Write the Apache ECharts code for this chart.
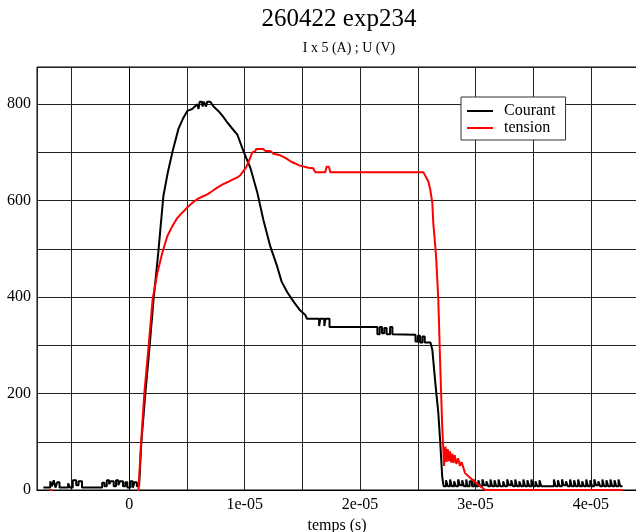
<!DOCTYPE html>
<html>
<head>
<meta charset="utf-8">
<script src="https://cdn.jsdelivr.net/npm/echarts@6/dist/echarts.min.js"></script>
<style>
html,body{margin:0;padding:0;background:#fff;}
#chart{width:636px;height:532px;}
</style>
</head>
<body>
<div id="chart"></div>
<script>
// ---- texts ----
const titre = '260422 exp234';
const sousTitre = 'I x 5 (A) ; U (V)';
const nomAxeX = 'temps (s)';
const nomsSeries = ['Courant', 'tension'];
const yTickLabels = [0, 200, 400, 600, 800];

// ---- data: [time in microseconds, value] ----
const courant = [
  [-7.45,5],[-6.85,5],[-6.85,18],[-6.7,18],[-6.7,8],[-6.55,8],[-6.55,20],[-6.4,20],[-6.4,5],[-6.25,5],[-6.25,16],[-6.05,16],[-6.05,5],
  [-5.3,5],[-5.3,14],[-5.15,14],[-5.15,5],[-4.9,5],[-4.9,20],[-4.6,20],[-4.6,10],[-4.4,10],[-4.4,18],[-4.1,18],[-4.1,5],
  [-2.35,5],[-2.35,15],[-2.15,15],[-2.15,8],[-1.95,8],[-1.95,20],[-1.75,20],[-1.75,12],[-1.6,12],[-1.6,18],[-1.35,18],[-1.35,8],
  [-1.15,8],[-1.15,20],[-0.95,20],[-0.95,10],[-0.8,10],[-0.8,18],[-0.55,18],[-0.55,8],[-0.35,8],[-0.35,16],[-0.17,16],[-0.17,5],
  [0.1,5],[0.1,18],[0.3,18],[0.3,5],[0.45,5],[0.45,16],[0.65,16],[0.65,8],[0.85,8],
  [1.04,98],[1.39,200],[1.76,298],[2.1,395],[2.51,492],[2.95,609],[3.35,660],[3.73,700],[4.25,748],[4.65,770],[5.03,786],[5.45,790],
  [5.89,800],[6.0,790],[6.1,805],[6.3,805],[6.35,795],[6.45,805],[6.6,805],[6.65,795],[6.75,805],[7.02,805],[7.3,795],[7.71,786],
  [8.1,775],[8.49,762],[8.9,750],[9.36,737],[9.88,703],[10.49,668],[11.09,617],[11.61,561],[12.22,505],[12.82,463],[13.2,432],
  [13.69,410],[14.25,390],[14.82,372],[15.25,363],[15.4,355],
  [16.45,355],[16.45,340],[16.55,340],[16.55,355],[16.9,355],[16.9,340],[17.0,340],[17.0,355],[17.35,355],[17.35,338],
  [21.5,338],[21.5,323],[21.7,323],[21.7,338],[21.9,338],[21.9,325],[22.1,325],[22.1,336],[22.3,336],[22.3,323],[22.6,323],[22.6,338],[22.8,338],[22.8,323],
  [24.8,322],[24.8,308],[25.0,308],[25.0,320],[25.2,320],[25.2,306],[25.4,306],[25.4,318],[25.6,318],[25.6,306],[26.1,306],
  [26.26,291],[26.52,222],[26.78,160],[26.95,98],[27.12,27],[27.24,8],
  [27.45,8],[27.45,20],[27.6,20],[27.6,8],[27.8,8],[27.8,22],[27.95,22],[27.95,8],[28.15,8],[28.15,18],[28.3,18],[28.3,8],
  [28.5,8],[28.5,22],[28.65,22],[28.65,10],[28.85,10],[28.85,20],[29.0,20],[29.0,8],[29.2,8],[29.2,22],[29.3,22],[29.3,8],
  [29.5,8],[29.5,18],[29.7,18],[29.7,8],[29.9,8],[29.9,22],[30.05,22],[30.05,8],[30.25,8],[30.25,20],[30.4,20],[30.4,8],
  [30.6,8],[30.6,22],[30.75,22],[30.75,10],[30.95,10],[30.95,18],[31.1,18],[31.1,8],[31.3,8],[31.3,22],[31.45,22],[31.45,8],
  [31.65,8],[31.65,20],[31.8,20],[31.8,8],[32.0,8],[32.0,22],[32.15,22],[32.15,8],[32.4,8],[32.4,18],[32.55,18],[32.55,8],
  [32.75,8],[32.75,22],[32.9,22],[32.9,10],[33.1,10],[33.1,20],[33.25,20],[33.25,8],[33.45,8],[33.45,22],[33.6,22],[33.6,8],
  [33.8,8],[33.8,18],[33.95,18],[33.95,8],[34.15,8],[34.15,22],[34.3,22],[34.3,8],[34.5,8],[34.5,20],[34.65,20],[34.65,8],
  [34.85,8],[34.85,22],[35.0,22],[35.0,8],[35.2,8],[35.2,18],[35.35,18],[35.35,8],[35.55,8],[35.55,20],[35.7,20],[35.7,8],
  [36.8,8],[36.8,22],[36.95,22],[36.95,8],[37.15,8],[37.15,20],[37.3,20],[37.3,8],[37.5,8],[37.5,22],[37.65,22],[37.65,10],
  [37.85,10],[37.85,18],[38.0,18],[38.0,8],[38.2,8],[38.2,22],[38.35,22],[38.35,8],[38.55,8],[38.55,20],[38.7,20],[38.7,8],
  [38.9,8],[38.9,22],[39.05,22],[39.05,8],[39.25,8],[39.25,18],[39.4,18],[39.4,8],[39.6,8],[39.6,22],[39.75,22],[39.75,8],
  [39.95,8],[39.95,20],[40.1,20],[40.1,8],[40.3,8],[40.3,22],[40.45,22],[40.45,10],[40.65,10],[40.65,18],[40.8,18],[40.8,8],
  [41.0,8],[41.0,22],[41.15,22],[41.15,8],[41.35,8],[41.35,20],[41.5,20],[41.5,8],[41.7,8],[41.7,22],[41.85,22],[41.85,8],
  [42.05,8],[42.05,20],[42.2,20],[42.2,8],[42.4,8],[42.4,22],[42.55,22],[42.55,8],[42.75,8]
];

const tension = [
  [-6.95,0],[-6.75,0],[-6.7,-8],[0.7,-8],[0.8,0],[1.0,90],[1.3,200],[1.67,298],[2.02,395],[2.43,450],[2.86,492],[3.29,526],[3.73,547],[4.1,562],[4.42,571],
  [4.8,580],[5.11,588],[5.5,596],[5.89,603],[6.3,608],[6.76,613],[7.2,620],[7.63,627],[8.05,633],[8.49,638],[8.9,643],[9.36,648],
  [9.6,652],[9.88,661],[10.1,668],[10.31,679],[10.5,690],[10.66,700],[10.9,702],[11.0,707],[11.6,707],[11.8,703],[12.22,703],
  [12.5,697],[13.08,694],[13.4,690],[13.69,686],[14.0,681],[14.38,677],[14.7,673],[15.08,671],[15.5,668],[15.94,667],[16.11,659],
  [16.98,659],[17.1,670],[17.3,670],[17.42,659],[25.48,659],[25.65,655],[25.91,640],[26.08,623],[26.26,596],[26.34,555],[26.52,505],
  [26.6,478],[26.78,395],[26.95,256],[27.12,131],[27.28,50],[27.4,90],[27.5,58],[27.6,85],[27.7,60],[27.8,80],[27.9,57],[28.0,75],
  [28.1,56],[28.2,72],[28.35,54],[28.5,66],[28.65,50],[28.8,58],[29.1,35],[29.7,22],[30.25,11],[30.85,0],[42.75,0]
];

const SERIF = 'Liberation Serif';
const toSeconds = arr => arr.map(p => [p[0] * 1e-6, p[1]]);

const chart = echarts.init(document.getElementById('chart'), null, {renderer: 'canvas'});

function xLabel(v) {
  const k = v / 1e-5;
  const r = Math.round(k);
  if (Math.abs(k - r) > 1e-6) return '';
  return r === 0 ? '0' : r + 'e-05';
}

chart.setOption({
  animation: false,
  backgroundColor: '#fff',
  title: [
    {text: titre, left: 339, top: 7, textAlign: 'center', padding: 0,
     textStyle: {fontFamily: SERIF, fontSize: 25, fontWeight: 'normal', color: '#000'}},
    {text: sousTitre, left: 349, top: 41, textAlign: 'center', padding: 0,
     textStyle: {fontFamily: SERIF, fontSize: 14, fontWeight: 'normal', color: '#000'}}
  ],
  legend: {
    orient: 'vertical', left: 461, top: 97,
    data: nomsSeries,
    icon: 'path://M0,0L26,0L26,2L0,2Z',
    itemWidth: 26, itemHeight: 14, itemGap: 1,
    padding: [6, 10, 4, 6],
    borderColor: '#333', borderWidth: 1, backgroundColor: '#fff',
    textStyle: {fontFamily: SERIF, fontSize: 16, color: '#000', padding: [0, 0, 0, 6]}
  },
  grid: {left: 37, right: -1, top: 67, bottom: 42, show: true, borderColor: '#000', borderWidth: 1,
         containLabel: false, outerBoundsMode: 'none'},
  xAxis: {
    type: 'value', min: -8e-6, max: 4.4e-5, splitNumber: 10,
    axisLine: {show: true, onZero: false, lineStyle: {color: '#000', width: 1}},
    axisTick: {show: false},
    axisLabel: {formatter: xLabel, fontFamily: SERIF, fontSize: 16, color: '#000', margin: 7},
    splitLine: {show: true, lineStyle: {color: '#222', width: 1}},
    name: nomAxeX, nameLocation: 'middle', nameGap: 20,
    nameTextStyle: {fontFamily: SERIF, fontSize: 16, color: '#000'}
  },
  yAxis: {
    type: 'value', min: 0, max: 877, interval: 100,
    axisLine: {show: true, lineStyle: {color: '#000', width: 1}},
    axisTick: {show: false},
    axisLabel: {
      formatter: v => (yTickLabels.indexOf(v) >= 0 ? String(v) : ''),
      fontFamily: SERIF, fontSize: 16, color: '#000', margin: 6
    },
    splitLine: {show: true, lineStyle: {color: '#222', width: 1}}
  },
  series: [
    {name: nomsSeries[0], type: 'line', data: toSeconds(courant), symbol: 'none', showSymbol: false,
     lineStyle: {color: '#000', width: 2}, itemStyle: {color: '#000'}},
    {name: nomsSeries[1], type: 'line', data: toSeconds(tension), symbol: 'none', showSymbol: false,
     lineStyle: {color: '#ff0000', width: 2}, itemStyle: {color: '#ff0000'}}
  ]
});
</script>
</body>
</html>
